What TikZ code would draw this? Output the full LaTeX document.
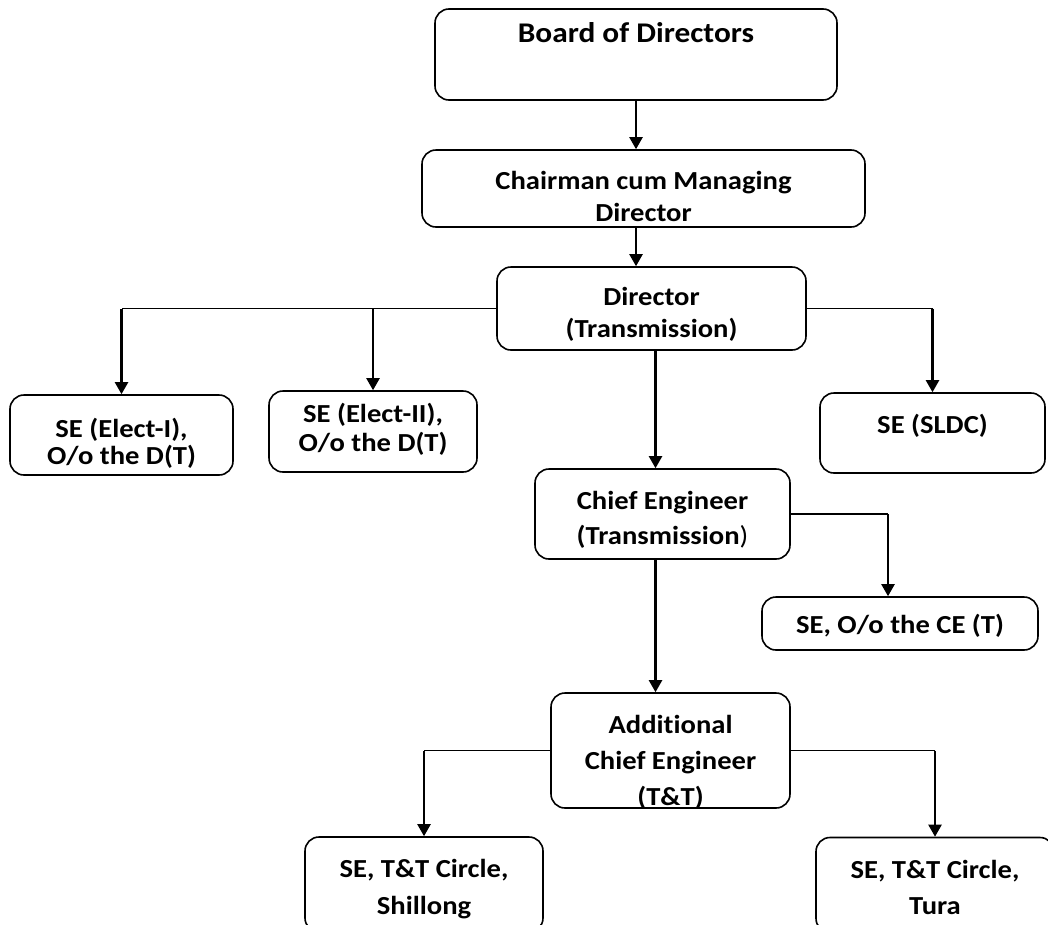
\documentclass[tikz,border=0pt]{standalone}
\usepackage{fontspec}
\setmainfont[FakeStretch=1.1, Ligatures=NoCommon]{Carlito}
\usetikzlibrary{arrows.meta}

% text of a post, moved down by #1 from the centre, rows stretched by #2
\newcommand{\posttext}[3]{\raisebox{\dimexpr -8.5pt-(#1pt)\relax}[0pt][0pt]{%
  \renewcommand{\arraystretch}{#2}\begin{tabular}{@{}c@{}}#3\end{tabular}}}

\begin{document}
\begin{tikzpicture}[x=1pt,y=-1pt,
    post/.style={draw, line width=1.6pt, rounded corners=14pt, inner sep=0pt,
      font=\fontsize{26}{32}\selectfont\bfseries},
    link/.style={line width=1.4pt},
    down/.style={line width=2.2pt, -{Triangle[width=13pt,length=12pt]}}]
  \useasboundingbox (0,0) rectangle (1048,924);

  % posts
  \node[post, minimum width=402pt, minimum height=91pt,
    font=\fontsize{28.5}{34}\selectfont\bfseries] (board) at (636,54.5)
    {\posttext{-21.5}{1}{Board of Directors}};
  \node[post, minimum width=443pt, minimum height=77pt] (cmd) at (643.5,188.5)
    {\posttext{8.5}{1}{Chairman cum Managing\\Director}};
  \node[post, minimum width=309pt, minimum height=83pt] (dir) at (651.5,308.5)
    {\posttext{4.5}{1}{Director\\(Transmission)}};
  \node[post, minimum width=223pt, minimum height=80pt] (elect1) at (121.5,435)
    {\posttext{8}{0.86}{SE (Elect-I),\\O/o the D(T)}};
  \node[post, minimum width=208pt, minimum height=81pt] (elect2) at (373,431.5)
    {\posttext{-2.5}{0.89}{SE (Elect-II),\\O/o the D(T)}};
  \node[post, minimum width=225pt, minimum height=80pt] (sldc) at (932.5,433)
    {\posttext{-8}{1}{SE (SLDC)}};
  \node[post, minimum width=255pt, minimum height=90pt] (ce) at (662.5,514)
    {\posttext{4}{1.08}{Chief Engineer\\(Transmission{\mdseries)}}};
  \node[post, minimum width=276pt, minimum height=53pt] (oce) at (900,623.5)
    {\posttext{1.5}{1}{SE, O/o the CE (T)}};
  \node[post, minimum width=239pt, minimum height=115pt] (ace) at (670.5,750.5)
    {\posttext{9.5}{1.125}{Additional\\Chief Engineer\\(T\&T)}};
  \node[post, minimum width=238pt, minimum height=95pt] (shillong) at (424,884.5)
    {\posttext{2}{1.14}{SE, T\&T Circle,\\Shillong}};
  \node[post, minimum width=238pt, minimum height=95pt] (tura) at (935,885)
    {\posttext{2}{1.14}{SE, T\&T Circle,\\Tura}};

  % branch points
  \coordinate (d1) at (elect1.north |- dir.west);
  \coordinate (d2) at (elect2.north |- dir.west);
  \coordinate (d3) at (sldc.north |- dir.east);
  \coordinate (c1) at ([xshift=-12pt]oce.north |- ce.east);
  \coordinate (a1) at (shillong.north |- ace.west);
  \coordinate (a2) at (tura.north |- ace.east);

  % connectors
  \draw[down] (board.south) -- (board.south |- cmd.north);
  \draw[down] (cmd.south -| board.south) -- (dir.north -| board.south);
  \draw[link] (dir.west) -- (d1);
  \draw[down] (d1) -- (elect1.north);
  \draw[down] (d2) -- (elect2.north);
  \draw[link] (dir.east) -- (d3);
  \draw[down] (d3) -- (sldc.north);
  \draw[down] ([xshift=4pt]dir.south) -- ([xshift=4pt]dir.south |- ce.north);
  \draw[link] (ce.east) -- (c1);
  \draw[down] (c1) -- (c1 |- oce.north);
  \draw[down] ([xshift=-7pt]ce.south) -- ([xshift=-7pt]ce.south |- ace.north);
  \draw[link] (ace.west) -- (a1);
  \draw[down] (a1) -- (shillong.north);
  \draw[link] (ace.east) -- (a2);
  \draw[down] (a2) -- (tura.north);
\end{tikzpicture}
\end{document}
